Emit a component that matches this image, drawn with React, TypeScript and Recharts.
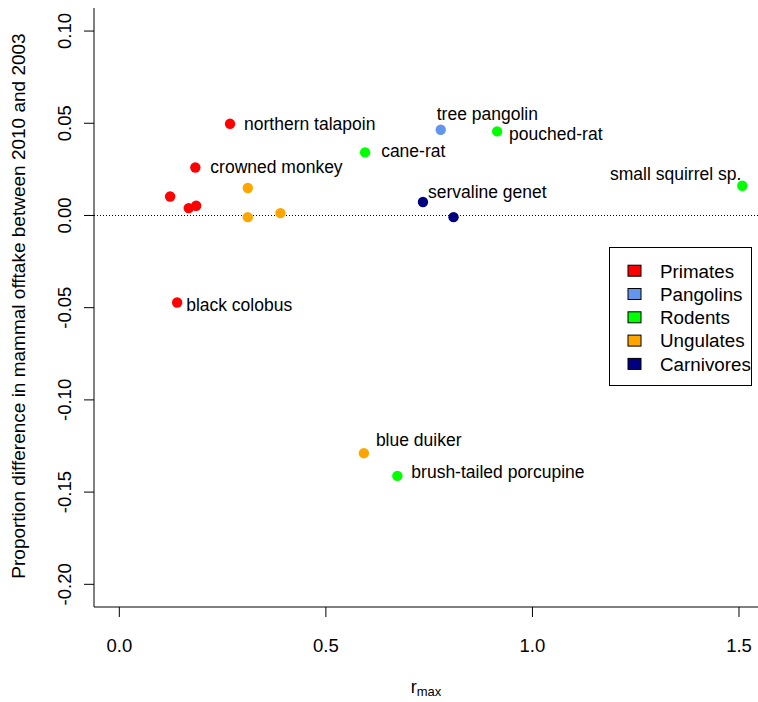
import { ScatterChart, Scatter, XAxis, YAxis, ReferenceLine, Legend } from 'recharts';

const groups = ['Primates', 'Pangolins', 'Rodents', 'Ungulates', 'Carnivores'];
const groupColors = ['#FF0000', '#6495ED', '#00FF00', '#FFA500', '#000080'];

const species = [
  'northern talapoin', 'crowned monkey', '', '', '', 'black colobus',
  'tree pangolin',
  'cane-rat', 'pouched-rat', 'small squirrel sp.', 'brush-tailed porcupine',
  '', '', '', 'blue duiker',
  'servaline genet', '',
];
const rmax = [0.268, 0.184, 0.123, 0.168, 0.186, 0.14, 0.778, 0.595, 0.9145, 1.508, 0.673, 0.311, 0.311, 0.39, 0.592, 0.735, 0.809];
const offtakeDiff = [0.0497, 0.026, 0.0103, 0.004, 0.0053, -0.0472, 0.0465, 0.0342, 0.0456, 0.0161, -0.1412, 0.0149, -0.0009, 0.0013, -0.1289, 0.0073, -0.0009];
const speciesGroup = [0, 0, 0, 0, 0, 0, 1, 2, 2, 2, 2, 3, 3, 3, 3, 4, 4];

const xTicks = [0, 0.5, 1, 1.5];
const yTicks = [-0.2, -0.15, -0.1, -0.05, 0, 0.05, 0.1];

const font = "'Liberation Sans', Arial, sans-serif";

// where each species label sits relative to its point
const labelPos: Record<string, { dx: number; dy: number; anchor?: string }> = {
  'northern talapoin': { dx: 14, dy: 6 },
  'crowned monkey': { dx: 15, dy: 5 },
  'black colobus': { dx: 9, dy: 8 },
  'tree pangolin': { dx: -4, dy: -10 },
  'pouched-rat': { dx: 12, dy: 9 },
  'cane-rat': { dx: 16, dy: 5 },
  'small squirrel sp.': { dx: -1, dy: -6, anchor: 'end' },
  'servaline genet': { dx: 5, dy: -4 },
  'blue duiker': { dx: 12, dy: -7.5 },
  'brush-tailed porcupine': { dx: 14, dy: 2.5 },
};

const seriesData = groups.map((_, g) =>
  species
    .map((name, i) => ({ name, x: rmax[i], y: offtakeDiff[i], g: speciesGroup[i] }))
    .filter((d) => d.g === g)
);

const PointShape = (props: any) => {
  const { cx, cy, fill, payload } = props;
  const pos = labelPos[payload.name];
  return (
    <g>
      <circle cx={cx} cy={cy} r={5.2} fill={fill} />
      {pos && (
        <text
          x={cx + pos.dx}
          y={cy + pos.dy}
          textAnchor={pos.anchor || 'start'}
          fontFamily={font}
          fontSize={17.5}
          fill="#000"
        >
          {payload.name}
        </text>
      )}
    </g>
  );
};

const XTick = (props: any) => (
  <text x={props.x} y={652} textAnchor="middle" fontFamily={font} fontSize={18.5} fill="#000">
    {Number(props.payload.value).toFixed(1)}
  </text>
);

const YTick = (props: any) => (
  <text
    transform={`translate(71,${props.y}) rotate(-90)`}
    textAnchor="middle"
    fontFamily={font}
    fontSize={18.5}
    fill="#000"
  >
    {Number(props.payload.value).toFixed(2)}
  </text>
);

const renderLegend = () => (
  <svg width={143} height={139} style={{ display: 'block' }}>
    <rect x={0.5} y={0.5} width={142} height={138} fill="#fff" stroke="#000" />
    {groups.map((g, i) => {
      const base = 30.5 + i * 23.3;
      return (
        <g key={g}>
          <rect x={19} y={base - 12.3} width={13} height={11} fill={groupColors[i]} stroke="#000" />
          <text x={51} y={base} fontFamily={font} fontSize={18.8} fill="#000">
            {g}
          </text>
        </g>
      );
    })}
  </svg>
);

export default function App() {
  return (
    <div style={{ position: 'absolute', left: 0, top: 0, background: '#fff' }}>
      <ScatterChart width={758} height={702} margin={{ top: 8, right: 0, bottom: 0, left: 0 }}>
        <XAxis
          type="number"
          dataKey="x"
          domain={[-0.0613, 1.546]}
          ticks={xTicks}
          allowDataOverflow
          height={95}
          tickSize={10}
          tick={<XTick />}
          axisLine={{ stroke: '#000' }}
          tickLine={{ stroke: '#000' }}
          label={{
            content: () => (
              <text x={426} y={693} textAnchor="middle" fontFamily={font} fill="#000">
                <tspan fontSize={18}>r</tspan>
                <tspan fontSize={13} dy={3}>max</tspan>
              </text>
            ),
          }}
        />
        <YAxis
          type="number"
          dataKey="y"
          domain={[-0.2123, 0.1125]}
          ticks={yTicks}
          allowDataOverflow
          width={94}
          tickSize={10}
          tick={<YTick />}
          axisLine={{ stroke: '#000' }}
          tickLine={{ stroke: '#000' }}
          label={{
            content: () => (
              <text
                transform="translate(25,306) rotate(-90)"
                textAnchor="middle"
                fontFamily={font}
                fontSize={19}
                fill="#000"
              >
                Proportion difference in mammal offtake between 2010 and 2003
              </text>
            ),
          }}
        />
        <ReferenceLine y={0} stroke="#000" strokeDasharray="1 2" />
        {groups.map((g, i) => (
          <Scatter
            key={g}
            name={g}
            data={seriesData[i]}
            fill={groupColors[i]}
            shape={<PointShape />}
            isAnimationActive={false}
          />
        ))}
        <Legend
          layout="horizontal"
          verticalAlign="middle"
          align="center"
          content={renderLegend}
          wrapperStyle={{ left: 609, top: 247, width: 143, height: 139 }}
        />
      </ScatterChart>
    </div>
  );
}
